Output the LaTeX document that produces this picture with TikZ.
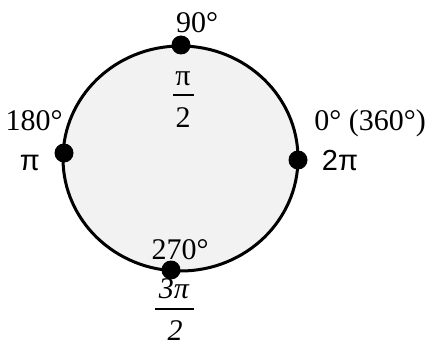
\documentclass[tikz,border=0pt]{standalone}
\usepackage{fontspec}
\usetikzlibrary{shapes.geometric}
\setmainfont{Liberation Serif}
\newfontfamily\sansf{Liberation Sans}
\begin{document}
\begin{tikzpicture}[x=1pt,y=-1pt,
  lbl/.style={inner sep=0pt,font=\fontsize{30}{31}\selectfont},
  slbl/.style={inner sep=0pt,font=\fontsize{29}{30}\selectfont\sansf},
  ilbl/.style={inner sep=0pt,font=\fontsize{30}{31}\selectfont\itshape},
  dot/.style={circle,fill=black,inner sep=0pt,minimum size=19pt},
  bar/.style={line width=1.4pt}]
\useasboundingbox (0,0) rectangle (434,345);
\node[ellipse,draw,line width=3pt,fill=black!5,minimum width=235pt,minimum height=225pt,inner sep=0pt] (c) at (180.5,158.5) {};
\node[dot] (d90) at (181,45) {};
\node[dot] (d180) at (64,153) {};
\node[dot] (d0) at (298,160) {};
\node[dot] (d270) at (171,270) {};
% labels
\node[lbl,anchor=base] (t90) at (197,33) {90°};
\node[lbl,anchor=base] (tpinum) at (183,85) {π};
\coordinate (tb1) at (173,95);
\coordinate (tb2) at (194,95);
\draw[bar] (tb1) -- (tb2);
\node[lbl,anchor=base] (tpiden) at (183,127) {2};
\node[lbl,anchor=base] (t180) at (34,131) {180°};
\node[slbl,anchor=base] (tpi) at (30,170) {π};
\node[lbl,anchor=base] (t0) at (370,130) {0° (360°)};
\node[slbl,anchor=base] (t2pi) at (340,170) {2π};
\node[lbl,anchor=base] (t270) at (180,259) {270°};
\node[ilbl,anchor=base] (t3pi) at (174,298) {3π};
\coordinate (bb1) at (155,309);
\coordinate (bb2) at (194,309);
\draw[bar] (bb1) -- (bb2);
\node[ilbl,anchor=base] (t3den) at (175,340) {2};
\end{tikzpicture}
\end{document}
